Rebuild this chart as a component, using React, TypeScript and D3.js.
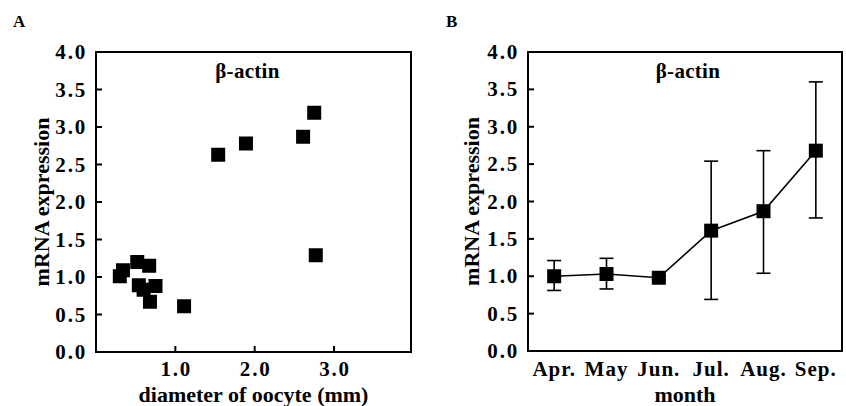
import React from "react";
import * as d3 from "d3";

const diameters = [0.30, 0.34, 0.52, 0.67, 0.54, 0.60, 0.75, 0.68, 1.11, 1.54, 1.89, 2.61, 2.75, 2.77];
const expressionA = [1.01, 1.09, 1.20, 1.15, 0.89, 0.83, 0.88, 0.67, 0.61, 2.63, 2.78, 2.87, 3.19, 1.29];

const months = ["Apr.", "May", "Jun.", "Jul.", "Aug.", "Sep."];
const meanB = [1.00, 1.03, 0.98, 1.61, 1.87, 2.68];
const upperB = [1.21, 1.24, 1.0, 2.54, 2.68, 3.60];
const lowerB = [0.81, 0.83, 0.96, 0.69, 1.04, 1.78];

const yTicks = [0, 0.5, 1, 1.5, 2, 2.5, 3, 3.5, 4];
const xTicksA = [1, 2, 3];

const FONT = "Liberation Serif, DejaVu Serif";
const MS = 14;

export default function App() {
  // Panel A
  const axL = 96, axR = 411, axT = 52, axB = 352;
  const xA = d3.scaleLinear().domain([0, 3.97]).range([axL, axR]);
  const yA = d3.scaleLinear().domain([0, 4]).range([axB, axT]);

  // Panel B
  const bxL = 528, bxR = 842, bxT = 52, bxB = 351;
  const xB = d3.scalePoint<string>().domain(months).range([bxL, bxR]).padding(0.5);
  const yB = d3.scaleLinear().domain([0, 4]).range([bxB, bxT]);
  const line = d3.line<number>().x((_, i) => xB(months[i])!).y((d) => yB(d));

  const tickText = { fontFamily: FONT, fontWeight: 700, fontSize: 21, letterSpacing: 1.8 } as const;
  const titleText = { fontFamily: FONT, fontWeight: 700, fontSize: 22 } as const;
  const labelText = { fontFamily: FONT, fontWeight: 700, fontSize: 21, letterSpacing: 0.3 } as const;

  return (
    <svg width={846} height={406} style={{ position: "absolute", left: 0, top: 0, background: "#fff" }}>
      <rect x={0} y={0} width={846} height={406} fill="#fff" />
      {/* Panel A */}
      <text x={13} y={27} style={{ fontFamily: FONT, fontWeight: 700, fontSize: 17 }}>A</text>
      <rect x={axL} y={axT} width={axR - axL} height={axB - axT} fill="none" stroke="#000" strokeWidth={2} />
      {yTicks.map((t) => (
        <g key={"ya" + t}>
          <line x1={axL} x2={axL + 6} y1={yA(t)} y2={yA(t)} stroke="#000" strokeWidth={2} />
          <text x={axL - 9} y={yA(t) + 7} textAnchor="end" style={tickText}>{t.toFixed(1)}</text>
        </g>
      ))}
      {xTicksA.map((t) => (
        <g key={"xa" + t}>
          <line x1={xA(t)} x2={xA(t)} y1={axB} y2={axB - 6} stroke="#000" strokeWidth={2} />
          <text x={xA(t) + 1} y={376} textAnchor="middle" style={tickText}>{t.toFixed(1)}</text>
        </g>
      ))}
      <text x={(axL + axR) / 2 - 6} y={78} textAnchor="middle" style={labelText}>β-actin</text>
      {diameters.map((d, i) => (
        <rect key={"pa" + i} x={xA(d) - MS / 2} y={yA(expressionA[i]) - MS / 2} width={MS} height={MS} fill="#000" />
      ))}
      <text x={(axL + axR) / 2} y={402} textAnchor="middle" style={titleText}>diameter of oocyte (mm)</text>
      <text transform={`translate(49,${(axT + axB) / 2}) rotate(-90)`} textAnchor="middle" style={titleText}>mRNA expression</text>

      {/* Panel B */}
      <text x={446} y={27} style={{ fontFamily: FONT, fontWeight: 700, fontSize: 17 }}>B</text>
      <rect x={bxL} y={bxT} width={bxR - bxL} height={bxB - bxT} fill="none" stroke="#000" strokeWidth={2} />
      {yTicks.map((t) => (
        <g key={"yb" + t}>
          <line x1={bxL} x2={bxL + 6} y1={yB(t)} y2={yB(t)} stroke="#000" strokeWidth={2} />
          <text x={bxL - 9} y={yB(t) + 7} textAnchor="end" style={tickText}>{t.toFixed(1)}</text>
        </g>
      ))}
      {months.map((m) => (
        <text key={"xb" + m} x={xB(m)} y={376} textAnchor="middle" style={{ ...tickText, letterSpacing: 1 }}>{m}</text>
      ))}
      <text x={(bxL + bxR) / 2 + 3} y={78} textAnchor="middle" style={labelText}>β-actin</text>
      {months.map((m, i) => {
        const x = xB(m)!;
        return (
          <g key={"eb" + m}>
            <line x1={x} x2={x} y1={yB(upperB[i])} y2={yB(lowerB[i])} stroke="#000" strokeWidth={1.6} />
            <line x1={x - 7} x2={x + 7} y1={yB(upperB[i])} y2={yB(upperB[i])} stroke="#000" strokeWidth={1.6} />
            <line x1={x - 7} x2={x + 7} y1={yB(lowerB[i])} y2={yB(lowerB[i])} stroke="#000" strokeWidth={1.6} />
          </g>
        );
      })}
      <path d={line(meanB) || ""} fill="none" stroke="#000" strokeWidth={1.6} />
      {months.map((m, i) => (
        <rect key={"pb" + m} x={xB(m)! - MS / 2} y={yB(meanB[i]) - MS / 2} width={MS} height={MS} fill="#000" />
      ))}
      <text x={(bxL + bxR) / 2} y={402} textAnchor="middle" style={titleText}>month</text>
      <text transform={`translate(479,${(bxT + bxB) / 2}) rotate(-90)`} textAnchor="middle" style={titleText}>mRNA expression</text>
    </svg>
  );
}
